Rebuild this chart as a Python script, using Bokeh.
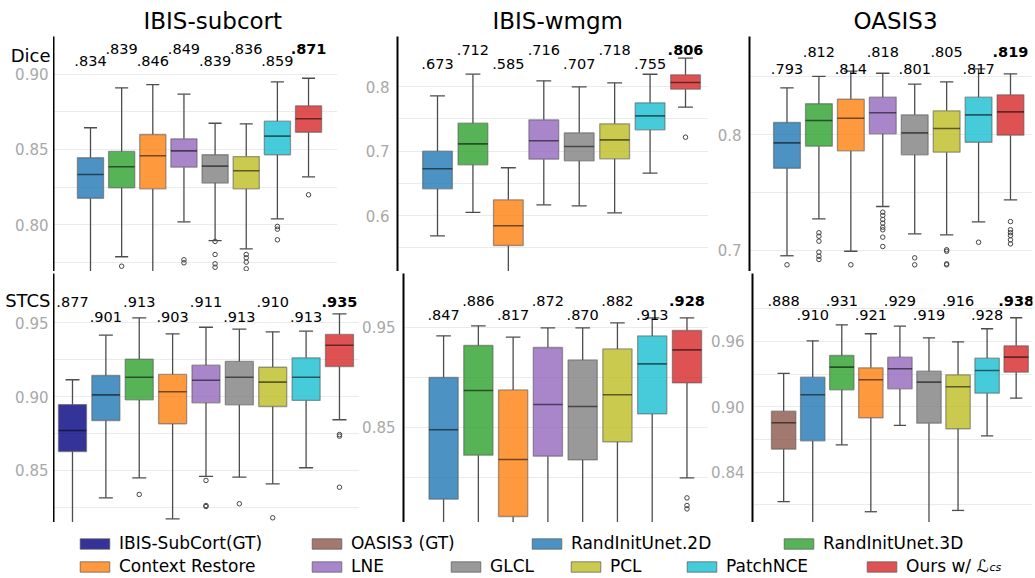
from bokeh.plotting import figure
from bokeh.layouts import column, row
from bokeh.models import (Range1d, FixedTicker, NumeralTickFormatter, Label,
                          Legend, LegendItem, Spacer, ColumnDataSource)
from bokeh.embed import file_html
from bokeh.resources import INLINE
from bokeh.core.properties import value

FONT = "DejaVu Sans"

# ---------------- data ----------------
datasets = ["IBIS-subcort", "IBIS-wmgm", "OASIS3"]
metrics = ["Dice", "STCS"]

GT_SUB = "IBIS-SubCort(GT)"
GT_OAS = "OASIS3 (GT)"
methods = ["RandInitUnet.2D", "RandInitUnet.3D", "Context Restore", "LNE",
           "GLCL", "PCL", "PatchNCE", "Ours w/ ℒcs"]
legend_order = [GT_SUB, GT_OAS, "RandInitUnet.2D", "RandInitUnet.3D",
                "Context Restore", "LNE", "GLCL", "PCL", "PatchNCE", "Ours w/ ℒcs"]
legend_text = [GT_SUB, GT_OAS, "RandInitUnet.2D", "RandInitUnet.3D",
               "Context Restore", "LNE", "GLCL", "PCL", "PatchNCE", "Ours w/ ℒ"]
colors = ["#000080", "#8c564b", "#1f77b4", "#2ca02c", "#ff7f0e",
          "#9467bd", "#7f7f7f", "#bcbd22", "#17becf", "#d62728"]

# IBIS-subcort, Dice
sd_q1 = [0.8175, 0.8245, 0.8238, 0.8382, 0.8276, 0.8238, 0.8465, 0.8615]
sd_med = [0.8333, 0.8385, 0.8458, 0.8491, 0.8389, 0.8358, 0.8589, 0.8705]
sd_q3 = [0.8445, 0.8487, 0.8600, 0.8571, 0.8465, 0.8453, 0.8689, 0.8791]
sd_lo = [0.7500, 0.7785, 0.7450, 0.8018, 0.7893, 0.7838, 0.8038, 0.8318]
sd_hi = [0.8645, 0.8911, 0.8933, 0.8869, 0.8675, 0.8671, 0.8951, 0.8975]
sd_out_m = ["RandInitUnet.3D", "LNE", "LNE", "GLCL", "GLCL", "GLCL", "GLCL",
            "PCL", "PCL", "PCL", "PCL", "PatchNCE", "PatchNCE", "PatchNCE", "Ours w/ ℒcs"]
sd_out_v = [0.7722, 0.7765, 0.7745, 0.7887, 0.7800, 0.7738, 0.7715,
            0.7800, 0.7778, 0.7749, 0.7705, 0.7987, 0.7969, 0.7898, 0.8198]
sd_lab = [".834", ".839", ".846", ".849", ".839", ".836", ".859", ".871"]

# IBIS-wmgm, Dice
wd_q1 = [0.6414, 0.6786, 0.5535, 0.6873, 0.6848, 0.6879, 0.7329, 0.7959]
wd_med = [0.6724, 0.7111, 0.5840, 0.7158, 0.7070, 0.7173, 0.7545, 0.8062]
wd_q3 = [0.6997, 0.7431, 0.6243, 0.7483, 0.7282, 0.7421, 0.7747, 0.8181]
wd_lo = [0.5685, 0.6047, 0.4500, 0.6166, 0.6150, 0.6042, 0.6656, 0.7679]
wd_hi = [0.7855, 0.8191, 0.6740, 0.8088, 0.7995, 0.8057, 0.8190, 0.8439]
wd_out_m = ["Ours w/ ℒcs"]
wd_out_v = [0.7214]
wd_lab = [".673", ".712", ".585", ".716", ".707", ".718", ".755", ".806"]

# OASIS3, Dice
od_q1 = [0.7708, 0.7899, 0.7859, 0.8006, 0.7824, 0.7847, 0.7933, 0.7994]
od_med = [0.7928, 0.8121, 0.8141, 0.8188, 0.8014, 0.8052, 0.8170, 0.8196]
od_q3 = [0.8104, 0.8266, 0.8305, 0.8323, 0.8170, 0.8205, 0.8323, 0.8343]
od_lo = [0.6951, 0.7271, 0.6990, 0.7377, 0.7141, 0.7132, 0.7245, 0.7435]
od_hi = [0.8404, 0.8502, 0.8548, 0.8530, 0.8435, 0.8456, 0.8568, 0.8525]
od_out_m = ["RandInitUnet.2D",
            "RandInitUnet.3D", "RandInitUnet.3D", "RandInitUnet.3D",
            "RandInitUnet.3D", "RandInitUnet.3D", "RandInitUnet.3D",
            "Context Restore",
            "LNE", "LNE", "LNE", "LNE", "LNE", "LNE", "LNE", "LNE",
            "GLCL", "GLCL", "PCL", "PCL", "PCL", "PCL", "PatchNCE",
            "Ours w/ ℒcs", "Ours w/ ℒcs", "Ours w/ ℒcs", "Ours w/ ℒcs",
            "Ours w/ ℒcs", "Ours w/ ℒcs"]
od_out_v = [0.6873,
            0.7150, 0.7120, 0.7077, 0.6982, 0.6947, 0.6919,
            0.6873,
            0.7328, 0.7300, 0.7265, 0.7233, 0.7198, 0.7176, 0.7112, 0.7031,
            0.6933, 0.6873, 0.7003, 0.6990, 0.6881, 0.6873, 0.7068,
            0.7247, 0.7176, 0.7150, 0.7126, 0.7089, 0.7054]
od_lab = [".793", ".812", ".814", ".818", ".801", ".805", ".817", ".819"]

# IBIS-subcort, STCS
ss_q1 = [0.8628, 0.8838, 0.8978, 0.8816, 0.8958, 0.8944, 0.8933, 0.8974, 0.9204]
ss_med = [0.8770, 0.9012, 0.9131, 0.9033, 0.9111, 0.9131, 0.9098, 0.9131, 0.9348]
ss_q3 = [0.8946, 0.9143, 0.9253, 0.9150, 0.9213, 0.9238, 0.9199, 0.9263, 0.9421]
ss_lo = [0.8000, 0.8314, 0.8450, 0.8172, 0.8459, 0.8454, 0.8409, 0.8518, 0.8843]
ss_hi = [0.9114, 0.9416, 0.9534, 0.9425, 0.9470, 0.9457, 0.9439, 0.9443, 0.9561]
ss_out_m = ["RandInitUnet.3D", "LNE", "LNE", "LNE", "GLCL", "PCL",
            "Ours w/ ℒcs", "Ours w/ ℒcs", "Ours w/ ℒcs"]
ss_out_v = [0.8337, 0.8432, 0.8262, 0.8255, 0.8274, 0.8179, 0.8743, 0.8732, 0.8386]
ss_lab = [".877", ".901", ".913", ".903", ".911", ".913", ".910", ".913", ".935"]

# IBIS-wmgm, STCS
ws_q1 = [0.7780, 0.8220, 0.7607, 0.8210, 0.8173, 0.8353, 0.8633, 0.8943]
ws_med = [0.8474, 0.8867, 0.8177, 0.8727, 0.8707, 0.8824, 0.9133, 0.9273]
ws_q3 = [0.8997, 0.9317, 0.8873, 0.9297, 0.9173, 0.9283, 0.9413, 0.9467]
ws_lo = [0.6800, 0.7200, 0.6600, 0.7100, 0.7000, 0.7200, 0.7400, 0.7993]
ws_hi = [0.9414, 0.9513, 0.9400, 0.9493, 0.9493, 0.9543, 0.9593, 0.9593]
ws_out_m = ["Ours w/ ℒcs", "Ours w/ ℒcs", "Ours w/ ℒcs"]
ws_out_v = [0.7793, 0.7717, 0.7683]
ws_lab = [".847", ".886", ".817", ".872", ".870", ".882", ".913", ".928"]

# OASIS3, STCS
os_q1 = [0.8610, 0.8687, 0.9156, 0.8899, 0.9165, 0.8849, 0.8798, 0.9125, 0.9318]
os_med = [0.8853, 0.9110, 0.9364, 0.9248, 0.9349, 0.9226, 0.9184, 0.9333, 0.9456]
os_q3 = [0.8959, 0.9272, 0.9471, 0.9358, 0.9456, 0.9327, 0.9294, 0.9447, 0.9560]
os_lo = [0.8127, 0.7700, 0.8650, 0.8035, 0.8828, 0.7700, 0.8047, 0.8733, 0.9079]
os_hi = [0.9306, 0.9606, 0.9753, 0.9671, 0.9741, 0.9634, 0.9597, 0.9717, 0.9818]
os_out_m = []
os_out_v = []
os_lab = [".888", ".910", ".931", ".921", ".929", ".919", ".916", ".928", ".938"]

# axis ticks
sd_ticks, sd_minor = [0.80, 0.85, 0.90], [0.775, 0.825, 0.875]
sd_tick_labels = ["0.80", "0.85", "0.90"]
wd_ticks, wd_minor = [0.6, 0.7, 0.8], [0.55, 0.65, 0.75]
od_ticks, od_minor = [0.7, 0.8], [0.75, 0.85]
ss_ticks, ss_minor = [0.85, 0.90, 0.95], [0.825, 0.875, 0.925]
ss_tick_labels = ["0.85", "0.90", "0.95"]
ws_ticks, ws_minor = [0.85, 0.95], [0.80, 0.90]
os_ticks, os_minor = [0.84, 0.90, 0.96], [0.81, 0.87, 0.93, 0.99]

color_of = dict(zip(legend_order, colors))
TICK_COLOR = "#a8a8a8"


def make_panel(mlist, q1, med, q3, lo, hi, out_m, out_v, labs, xr, yr,
               ticks, minor, fmt, width, height, bleft, btop, offs, bright=0,
               title=None, title_offset=0, show_labels=True):
    p = figure(width=width, height=height, title=title,
               x_range=Range1d(*xr), y_range=Range1d(*yr),
               output_backend="svg", toolbar_location=None,
               min_border_left=bleft, min_border_right=bright,
               min_border_top=btop, min_border_bottom=0,
               outline_line_color=None, background_fill_color="white",
               border_fill_color="white")
    if title is not None:
        p.title.align = "left"
        p.title.offset = title_offset
        p.title.text_font = FONT
        p.title.text_font_size = "23px"
        p.title.text_font_style = "normal"
        p.title.text_color = "black"
        p.title.standoff = 6
    p.xaxis.visible = False
    p.xgrid.visible = False
    grid_ticker = FixedTicker(ticks=ticks, minor_ticks=minor)
    ax = p.yaxis[0]
    if show_labels:
        ax.ticker = grid_ticker
        ax.formatter = NumeralTickFormatter(format=fmt)
        ax.major_label_text_font_size = "15px"
        ax.major_label_standoff = 4
    else:
        # labels of this panel live in the neighbouring label strip
        ax.ticker = FixedTicker(ticks=[])
        ax.major_label_standoff = 0
    p.ygrid.ticker = grid_ticker
    ax.major_tick_line_color = None
    ax.minor_tick_line_color = None
    ax.major_tick_out = 0
    ax.major_tick_in = 0
    ax.axis_line_color = "black"
    ax.axis_line_width = 2
    ax.major_label_text_color = TICK_COLOR
    ax.major_label_text_font = FONT
    p.ygrid.grid_line_color = "#ebebeb"
    p.ygrid.minor_grid_line_color = "#ebebeb"

    n = len(mlist)
    w = 0.84
    xs = list(range(n))
    src = ColumnDataSource(dict(
        x=xs, q1=q1, med=med, q3=q3, lo=lo, hi=hi,
        color=[color_of[m] for m in mlist],
        left=[x - w / 2 for x in xs], right=[x + w / 2 for x in xs],
        cl=[x - w / 4 for x in xs], cr=[x + w / 4 for x in xs]))
    wk = dict(line_color="#4d4d4d", line_width=1.3, source=src)
    p.segment("x", "lo", "x", "q1", **wk)
    p.segment("x", "q3", "x", "hi", **wk)
    p.segment("cl", "hi", "cr", "hi", **wk)
    p.segment("cl", "lo", "cr", "lo", **wk)
    p.vbar(x="x", width=w, bottom="q1", top="q3", fill_color="color",
           fill_alpha=0.8, line_color="#555555", line_alpha=0.55,
           line_width=1.3, source=src)
    p.segment("left", "med", "right", "med", line_color="black",
              line_alpha=0.55, line_width=1.6, source=src)
    if out_m:
        p.scatter([mlist.index(m) for m in out_m], out_v, marker="circle",
                  size=4.5, fill_color=None, line_color="#444444",
                  line_width=1)

    # median annotations, staggered
    ytop = p.y_range.end
    up = [i for i in range(n - 1) if (n - 1 - i) % 2 == 0]
    dn = [i for i in range(n) if (n - 1 - i) % 2 == 1]
    tk = dict(text_align="center", text_baseline="alphabetic",
              text_font=value(FONT), text_font_size="14.5px",
              text_color="black")
    p.text(x=up, y=[ytop] * len(up), text=[labs[i] for i in up],
           y_offset=offs[0], **tk)
    p.text(x=dn, y=[ytop] * len(dn), text=[labs[i] for i in dn],
           y_offset=offs[1], **tk)
    p.text(x=[n - 1], y=[ytop], text=[labs[n - 1]], y_offset=offs[0],
           text_font_style="bold", **tk)
    return p


def make_left(panel, ticks, tick_labels, row_label, row_offset, height, btop):
    pl = figure(width=53, height=height, x_range=Range1d(0, 1),
                y_range=panel.y_range, output_backend="svg",
                toolbar_location=None, min_border_left=0, min_border_right=0,
                min_border_top=btop, min_border_bottom=0,
                outline_line_color=None)
    pl.axis.visible = False
    pl.grid.visible = False
    pl.text(x=[1] * len(ticks), y=ticks, text=tick_labels, x_offset=-5,
            text_align="right", text_baseline="middle",
            text_font=value(FONT), text_font_size="15px",
            text_color=TICK_COLOR)
    pl.text(x=[1], y=[panel.y_range.end], text=[row_label], x_offset=-3,
            y_offset=row_offset, text_align="right",
            text_baseline="alphabetic", text_font=value(FONT),
            text_font_size="18px", text_color="black")
    return pl


top_m = methods
sub_m = [GT_SUB] + methods
oas_m = [GT_OAS] + methods

TOP_H, TOP_B = 269, 34
BOT_H = 249

pA = make_panel(top_m, sd_q1, sd_med, sd_q3, sd_lo, sd_hi, sd_out_m, sd_out_v,
                sd_lab, (-1.188, 7.93), (0.76867, 0.92533), sd_ticks, sd_minor,
                "0.00", 284, TOP_H, 0, TOP_B, (12, 24.6), title=datasets[0],
                title_offset=90, show_labels=False)
pB = make_panel(top_m, wd_q1, wd_med, wd_q3, wd_lo, wd_hi, wd_out_m, wd_out_v,
                wd_lab, (-1.129, 7.649), (0.51318, 0.87752), wd_ticks, wd_minor,
                "0.0", 371, TOP_H, 60, TOP_B, (13.3, 27.3), title=datasets[1],
                title_offset=95)
pC = make_panel(top_m, od_q1, od_med, od_q3, od_lo, od_hi, od_out_m, od_out_v,
                od_lab, (-1.174, 7.689), (0.68149, 0.88478), od_ticks, od_minor,
                "0.0", 327, TOP_H, 41, TOP_B, (15.7, 32.3), bright=3,
                title=datasets[2], title_offset=104)
pD = make_panel(sub_m, ss_q1, ss_med, ss_q3, ss_lo, ss_hi, ss_out_m, ss_out_v,
                ss_lab, (-0.569, 8.6), (0.8147, 0.9834), ss_ticks, ss_minor,
                "0.00", 306, BOT_H, 0, 0, (28.7, 43.7), show_labels=False)
pE = make_panel(top_m, ws_q1, ws_med, ws_q3, ws_lo, ws_hi, ws_out_m, ws_out_v,
                ws_lab, (-1.153, 7.619), (0.7547, 1.0037), ws_ticks, ws_minor,
                "0.00", 349, BOT_H, 37, 0, (27, 41))
pF = make_panel(oas_m, os_q1, os_med, os_q3, os_lo, os_hi, os_out_m, os_out_v,
                os_lab, (-1.072, 8.562), (0.7936, 1.0225), os_ticks, os_minor,
                "0.00", 327, BOT_H, 41, 0, (27, 41), bright=3)

lA = make_left(pA, sd_ticks, sd_tick_labels, metrics[0], 19, TOP_H, TOP_B)
lD = make_left(pD, ss_ticks, ss_tick_labels, metrics[1], 27, BOT_H, 0)


def bar(width, color):
    b = figure(width=width, height=2, output_backend="svg",
               toolbar_location=None, min_border=0, outline_line_color=None,
               background_fill_color=color, border_fill_color=color,
               x_range=Range1d(0, 1), y_range=Range1d(0, 1))
    b.axis.visible = False
    b.grid.visible = False
    return b


top_line = bar(1035, "#a0a0a0")
mid_line = bar(1035, "black")
bot_line = bar(1018, "black")

# legend strip
leg = figure(width=1035, height=52, output_backend="svg",
             toolbar_location=None, min_border=0, outline_line_color=None,
             x_range=Range1d(0, 1), y_range=Range1d(0, 1))
leg.axis.visible = False
leg.grid.visible = False
leg_pos = [(76, 23), (308, 23), (528, 23), (780, 23),
           (76, 0), (308, 0), (447, 0), (567, 0), (683, 0), (863, 0)]
for name, txt, (lx, ly) in zip(legend_order, legend_text, leg_pos):
    # placeholder bar kept outside the visible range; only its legend swatch shows
    r = leg.vbar(x=[-5], bottom=[-5], top=[-4], width=0.5,
                 fill_color=color_of[name], fill_alpha=0.8,
                 line_color="#555555", line_alpha=0.7)
    lg = Legend(items=[LegendItem(label=txt, renderers=[r])],
                location=(lx, ly), orientation="horizontal", padding=0,
                margin=0, spacing=0, border_line_color=None,
                background_fill_alpha=0, glyph_width=37, glyph_height=13,
                label_standoff=6, label_height=18, label_text_font=FONT,
                label_text_font_size="17px", label_text_color="black")
    leg.add_layout(lg)
leg.add_layout(Label(x=989, y=3, x_units="screen", y_units="screen",
                     text="cs", text_font=FONT, text_font_size="11px",
                     text_font_style="italic", text_color="black"))

layout = column(
    top_line,
    row(lA, pA, pB, pC),
    mid_line,
    row(lD, pD, pE, pF),
    row(Spacer(width=17, height=2), bot_line),
    leg,
)

open("out.html", "w").write(file_html(layout, INLINE))
